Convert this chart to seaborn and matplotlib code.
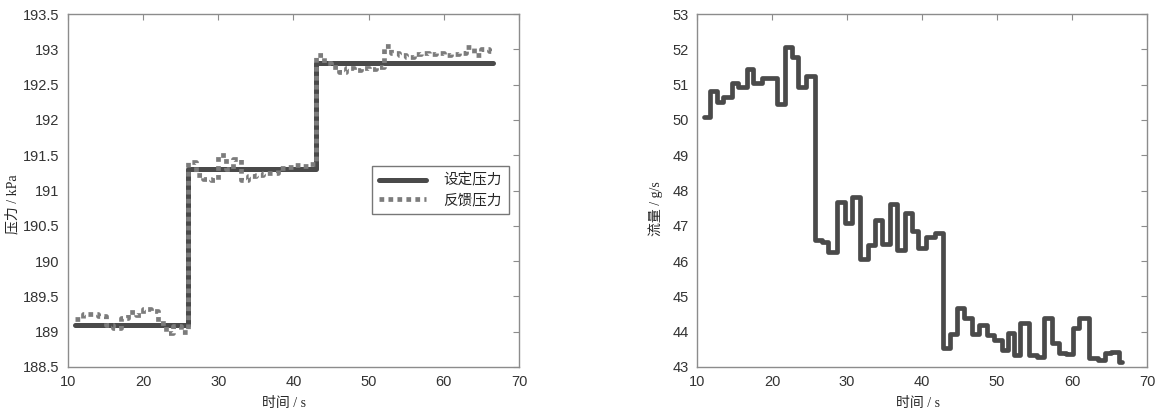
#!/usr/bin/env python3
"""Pressure step response (left) and flow rate (right), MATLAB-like style."""
import numpy as np
import pandas as pd
import matplotlib
matplotlib.use('Agg')
import matplotlib.pyplot as plt
import seaborn as sns

# set pressure (kPa), step changes
set_time = [11, 26, 43, 66.5]
set_kpa = [189.1, 191.3, 192.8, 192.8]

# feedback pressure (kPa), sampled every second, last value held to end
fb_time = [11, 12, 13, 14, 15, 16, 17, 18, 19, 20, 21, 22, 23, 24, 25,
           26, 27, 28, 29, 30, 31, 32, 33, 34, 35, 36, 37, 38, 39, 40, 41, 42,
           43, 44, 45, 46, 47, 48, 49, 50, 51, 52, 53, 54, 55, 56, 57, 58, 59,
           60, 61, 62, 63, 64, 65, 66, 66.5]
fb_kpa = [189.18, 189.25, 189.25, 189.22, 189.10, 189.05, 189.20, 189.28, 189.24,
          189.32, 189.30, 189.12, 188.98, 189.08, 189.00,
          191.40, 191.22, 191.16, 191.15, 191.50, 191.30, 191.45, 191.15, 191.20,
          191.22, 191.25, 191.25, 191.32, 191.33, 191.36, 191.35, 191.38,
          192.92, 192.80, 192.75, 192.68, 192.73, 192.71, 192.73, 192.72, 192.75,
          193.05, 192.95, 192.92, 192.89, 192.93, 192.95, 192.94, 192.95, 192.92,
          192.93, 192.95, 193.03, 192.92, 193.00, 192.98, 192.98]

# flow rate (g/s)
flow_time = [10.9, 11.7, 12.6, 13.5, 14.6, 15.5, 16.6, 17.4, 18.6, 20.6, 21.7,
             22.6, 23.5, 24.5, 25.7, 26.6, 27.5, 28.6, 29.7, 30.6, 31.7, 32.8,
             33.7, 34.6, 35.7, 36.6, 37.7, 38.6, 39.5, 40.5, 41.7, 42.8, 43.7,
             44.6, 45.6, 46.7, 47.6, 48.7, 49.6, 50.7, 51.5, 52.2, 53.1, 54.2,
             55.3, 56.3, 57.3, 58.2, 59.2, 60.1, 60.9, 62.3, 63.4, 64.4, 65.2,
             66.3, 66.6]
flow_gs = [50.09, 50.83, 50.52, 50.64, 51.04, 50.92, 51.44, 51.05, 51.20, 50.45,
           52.07, 51.79, 50.92, 51.24, 46.60, 46.53, 46.27, 47.68, 47.07, 47.82,
           46.06, 46.46, 47.16, 46.48, 47.62, 46.31, 47.37, 46.86, 46.36, 46.69,
           46.80, 43.55, 43.93, 44.68, 44.38, 43.93, 44.19, 43.91, 43.76, 43.48,
           43.95, 43.34, 44.25, 43.34, 43.29, 44.38, 43.67, 43.39, 43.37, 44.10,
           44.38, 43.25, 43.20, 43.39, 43.43, 43.15, 43.15]

sns.set_style('white')
plt.rcParams['font.family'] = ['Liberation Sans', 'Noto Sans CJK SC']
LABEL_FONT = ['Liberation Serif', 'Noto Sans CJK SC']
SPINE = '#8c8c8c'


def style_axes(ax, xlim, ylim, yticks):
    ax.set_xlim(*xlim)
    ax.set_ylim(*ylim)
    ax.set_xticks(np.arange(10, 71, 10))
    ax.set_yticks(yticks)
    ax.set_yticklabels([f'{v:g}' for v in yticks])
    for sp in ax.spines.values():
        sp.set_visible(True)
        sp.set_color(SPINE)
        sp.set_linewidth(1.0)
    ax.tick_params(direction='in', length=4, width=0.8, color=SPINE,
                   top=True, right=True, labelsize=10.5, labelcolor='#333333', pad=6)


fig = plt.figure(figsize=(11.6, 4.16), dpi=100)
ax1 = fig.add_axes([0.0586, 0.1178, 0.3888, 0.8485])
ax2 = fig.add_axes([0.6009, 0.1178, 0.3879, 0.8485])

df_set = pd.DataFrame({'t': set_time, 'p': set_kpa})
df_fb = pd.DataFrame({'t': fb_time, 'p': fb_kpa})
sns.lineplot(data=df_set, x='t', y='p', ax=ax1, drawstyle='steps-post',
             color='#4a4a4a', linewidth=3.6, label='设定压力')
sns.lineplot(data=df_fb, x='t', y='p', ax=ax1, drawstyle='steps-post',
             color='#7c7c7c', linewidth=3.4, linestyle=(0, (1, 0.9)),
             dash_capstyle='butt', label='反馈压力')
style_axes(ax1, (10, 70), (188.5, 193.5), np.arange(188.5, 193.51, 0.5))
ax1.set_xlabel('时间 / s', family=LABEL_FONT, fontsize=10)
ax1.set_ylabel('压力 / kPa', family=LABEL_FONT, fontsize=10)
ax1.xaxis.set_label_coords(0.48, -0.085)
ax1.yaxis.set_label_coords(-0.108, 0.46)
leg = ax1.legend(loc='upper right', bbox_to_anchor=(0.978, 0.569), borderaxespad=0,
                 fancybox=False, frameon=True, edgecolor='#555555', fontsize=10.5,
                 handlelength=3.2, borderpad=0.5, labelspacing=0.35, handletextpad=1.2)
leg.get_frame().set_linewidth(1.0)

df_flow = pd.DataFrame({'t': flow_time, 'q': flow_gs})
sns.lineplot(data=df_flow, x='t', y='q', ax=ax2, drawstyle='steps-post',
             color='#4a4a4a', linewidth=3.4)
style_axes(ax2, (10, 70), (43, 53), np.arange(43, 53.1, 1))
ax2.set_xlabel('时间 / s', family=LABEL_FONT, fontsize=10)
ax2.set_ylabel('流量 / g/s', family=LABEL_FONT, fontsize=10)
ax2.xaxis.set_label_coords(0.49, -0.085)
ax2.yaxis.set_label_coords(-0.075, 0.45)

fig.savefig('out.png', dpi=100)
